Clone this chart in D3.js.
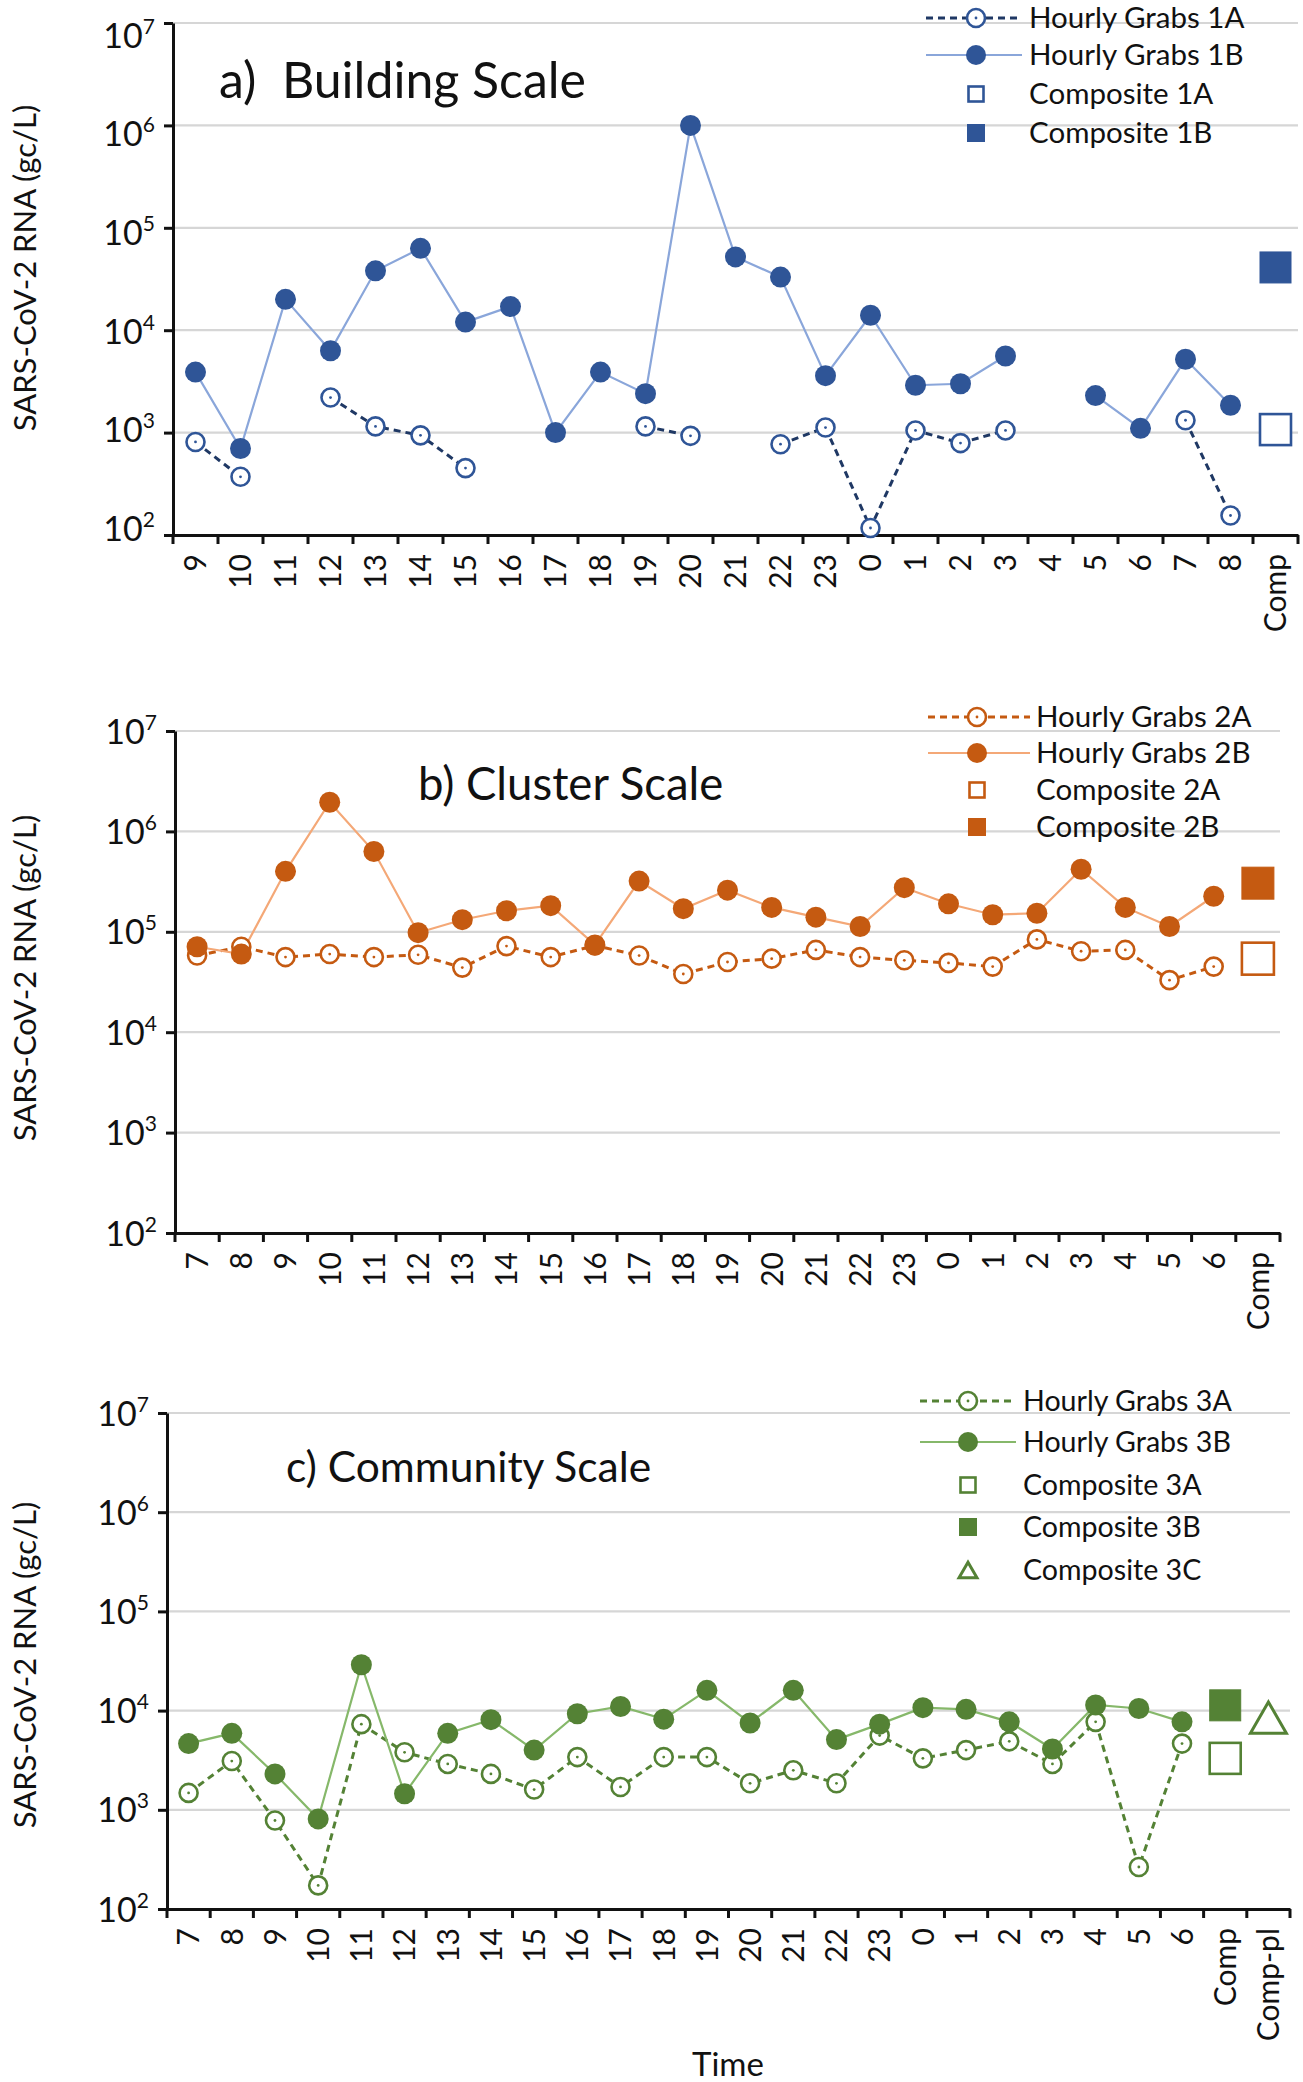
<!DOCTYPE html>
<html><head><meta charset="utf-8">
<script src="https://cdnjs.cloudflare.com/ajax/libs/d3/7.8.5/d3.min.js"></script>
<style>
body{margin:0;background:#fff}
svg{display:block}
text{font-family:Lato,"Open Sans",sans-serif;fill:#111}
</style>
</head><body>
<svg id="chart" width="1303" height="2082"></svg>
<script>
// ---------- DATA ----------
const hoursA = ["9","10","11","12","13","14","15","16","17","18","19","20","21","22","23","0","1","2","3","4","5","6","7","8"];
const catsA = hoursA.concat(["Comp"]);
const grabs1A = [810,370,null,2200,1150,940,450,null,null,null,1150,930,null,770,1120,117,1050,790,1050,null,null,null,1320,155];
const grabs1B = [3900,700,20000,6300,38000,63000,12000,17000,1000,3900,2400,1000000,52000,33000,3600,14000,2900,3000,5600,null,2300,1100,5200,1850];
const comp1A = 1070;
const comp1B = 41000;

const hoursB = ["7","8","9","10","11","12","13","14","15","16","17","18","19","20","21","22","23","0","1","2","3","4","5","6"];
const catsB = hoursB.concat(["Comp"]);
const grabs2A = [58000,71000,56000,60000,56000,59000,44000,72000,56000,73000,58000,38000,50000,54000,66000,56000,52000,49000,45000,84000,64000,66000,33000,45000];
const grabs2B = [71000,60000,400000,1950000,630000,98000,132000,162000,182000,74000,320000,170000,260000,175000,140000,113000,275000,190000,148000,153000,420000,175000,113000,226000];
const comp2A = 54000;
const comp2B = 305000;

const hoursC = hoursB;
const catsC = hoursC.concat(["Comp","Comp-pl"]);
const grabs3A = [1480,3100,780,173,7300,3800,2900,2300,1600,3400,1700,3400,3400,1850,2500,1850,5600,3300,4000,4900,2900,7700,265,4650];
const grabs3B = [4650,5900,2300,810,29000,1450,5900,8100,4000,9300,11000,8200,16000,7500,16000,5100,7300,10700,10300,7700,4100,11400,10500,7700];
const comp3A = 3300;
const comp3B = 11300;
const comp3C = 8500;

const yTickValues = [1e2,1e3,1e4,1e5,1e6,1e7];
const yTickExps = ["2","3","4","5","6","7"];

// ---------- LAYOUT ----------
const svg = d3.select("#chart");

const panels = [
  {
    cats: catsA, hours: hoursA, left: 173, right: 1298, top: 23, bottom: 535,
    labelShift: [-7,-3,1,5,8,12], ylabY: 268,
    title: "a)  Building Scale", titleX: 219, titleY: 80, titleSize: 50,
    dark: "#2F5597", light: "#8AA6DA", dash: "#1F3864",
    sA: grabs1A, sB: grabs1B,
    comps: [{cat:"Comp", v: comp1A, type:"sqOpen", size:31},{cat:"Comp", v: comp1B, type:"sqFilled", size:31}],
    legend: {x1: 926, x2: 1022, sx: 976, tx: 1029, ys: [18,55,94,133], size: 29.5,
      items: [["Hourly Grabs 1A","lineOpen"],["Hourly Grabs 1B","lineFilled"],["Composite 1A","sqOpen"],["Composite 1B","sqFilled"]]}
  },
  {
    cats: catsB, hours: hoursB, left: 175, right: 1280, top: 731, bottom: 1233,
    labelShift: [0,0,0,0,0,0], ylabY: 978,
    title: "b) Cluster Scale", titleX: 418, titleY: 784, titleSize: 45.5,
    dark: "#C55A11", light: "#F4A877", dash: "#C55A11",
    sA: grabs2A, sB: grabs2B,
    comps: [{cat:"Comp", v: comp2A, type:"sqOpen", size:32},{cat:"Comp", v: comp2B, type:"sqFilled", size:32}],
    legend: {x1: 928, x2: 1030, sx: 977, tx: 1036, ys: [717,753,790,827], size: 29.5,
      items: [["Hourly Grabs 2A","lineOpen"],["Hourly Grabs 2B","lineFilled"],["Composite 2A","sqOpen"],["Composite 2B","sqFilled"]]}
  },
  {
    cats: catsC, hours: hoursC, left: 167, right: 1290, top: 1413, bottom: 1909,
    labelShift: [0,0,0,0,0,0], ylabY: 1665,
    title: "c) Community Scale", titleX: 286, titleY: 1467, titleSize: 42.5,
    dark: "#548235", light: "#86B86A", dash: "#548235",
    sA: grabs3A, sB: grabs3B,
    comps: [{cat:"Comp", v: comp3A, type:"sqOpen", size:31},{cat:"Comp", v: comp3B, type:"sqFilled", size:31},{cat:"Comp-pl", v: comp3C, type:"tri", size:36}],
    legend: {x1: 920, x2: 1016, sx: 968, tx: 1023, ys: [1401,1442,1485,1527,1570], size: 28.6,
      items: [["Hourly Grabs 3A","lineOpen"],["Hourly Grabs 3B","lineFilled"],["Composite 3A","sqOpen"],["Composite 3B","sqFilled"],["Composite 3C","tri"]]}
  }
];

function openCircle(g, cx, cy, color, r) {
  g.append("circle").attr("cx",cx).attr("cy",cy).attr("r",r)
    .attr("fill","#fff").attr("stroke",color).attr("stroke-width",2.6);
  g.append("circle").attr("cx",cx).attr("cy",cy).attr("r",1.4).attr("fill",color);
}
function filledCircle(g, cx, cy, color, r) {
  g.append("circle").attr("cx",cx).attr("cy",cy).attr("r",r).attr("fill",color);
}
function square(g, cx, cy, color, s, filled) {
  g.append("rect").attr("x",cx-s/2).attr("y",cy-s/2).attr("width",s).attr("height",s)
    .attr("fill", filled ? color : "#fff").attr("stroke",color).attr("stroke-width", filled ? 1 : 2.6);
}
function triangle(g, cx, cy, color, s) {
  const h = s*0.87;
  g.append("path").attr("d",`M${cx},${cy-h/2} L${cx+s/2},${cy+h/2} L${cx-s/2},${cy+h/2} Z`)
    .attr("fill","#fff").attr("stroke",color).attr("stroke-width",3);
}

panels.forEach(p => {
  const g = svg.append("g");
  const x = d3.scaleBand().domain(p.cats).range([p.left, p.right]).paddingInner(0).paddingOuter(0);
  const bw = x.bandwidth();
  const cx = c => x(c) + bw/2;
  const y = d3.scaleLog().domain([1e2,1e7]).range([p.bottom, p.top]);

  // gridlines
  g.append("g").selectAll("line").data(yTickValues.slice(1)).join("line")
    .attr("x1", p.left).attr("x2", p.right)
    .attr("y1", d => y(d)).attr("y2", d => y(d))
    .attr("stroke", "#D6D6D6").attr("stroke-width", 2.2);

  // y axis
  const ya = g.append("g").attr("transform",`translate(${p.left},0)`)
    .call(d3.axisLeft(y).tickValues(yTickValues).tickSize(9).tickSizeOuter(0).tickFormat(""));
  ya.selectAll("path").attr("stroke","#111").attr("stroke-width",3);
  ya.selectAll(".tick line").attr("stroke","#111").attr("stroke-width",3);
  ya.selectAll(".tick").each(function(d,i){
    const t = d3.select(this).append("text").attr("x",-18).attr("y",12 + p.labelShift[i])
      .attr("text-anchor","end").style("font-size","34px").attr("fill","#111");
    t.append("tspan").text("10");
    t.append("tspan").attr("dy",-14).style("font-size","21px").text(yTickExps[i]);
  });

  // x axis
  const xa = g.append("g").attr("transform",`translate(0,${p.bottom})`)
    .call(d3.axisBottom(x).tickSize(0).tickSizeOuter(0));
  xa.selectAll("path").attr("stroke","#111").attr("stroke-width",3);
  xa.selectAll(".tick text")
    .attr("transform","rotate(-90)").attr("text-anchor","end")
    .attr("x",-19).attr("y",0).attr("dy","0.36em")
    .style("font-size","30px").attr("fill","#111");
  // boundary ticks
  const bounds = p.cats.map(c => x(c)).concat([x(p.cats[p.cats.length-1]) + bw]);
  g.append("g").selectAll("line").data(bounds).join("line")
    .attr("x1", d=>d).attr("x2", d=>d).attr("y1", p.bottom).attr("y2", p.bottom+9)
    .attr("stroke","#111").attr("stroke-width",3);

  // y label
  g.append("text").attr("transform",`translate(25,${p.ylabY}) rotate(-90)`)
    .attr("text-anchor","middle").attr("dy","0.35em")
    .style("font-size","31px").attr("fill","#222").text("SARS-CoV-2 RNA (gc/L)");

  // title
  g.append("text").attr("x",p.titleX).attr("y",p.titleY).attr("dy","0.35em")
    .style("font-size",p.titleSize+"px").style("white-space","pre").attr("xml:space","preserve").attr("fill","#111").text(p.title);

  // series
  const dA = p.hours.map((h,i)=>({h, v:p.sA[i]}));
  const dB = p.hours.map((h,i)=>({h, v:p.sB[i]}));
  const line = d3.line().defined(d => d.v != null).x(d => cx(d.h)).y(d => y(d.v));
  g.append("path").datum(dA).attr("d", line).attr("fill","none")
    .attr("stroke", p.dash).attr("stroke-width",3).attr("stroke-dasharray","7,5");
  g.append("path").datum(dB).attr("d", line).attr("fill","none")
    .attr("stroke", p.light).attr("stroke-width",2.2);
  const mk = g.append("g");
  dA.filter(d=>d.v!=null).forEach(d => openCircle(mk, cx(d.h), y(d.v), p.dark, 9));
  dB.filter(d=>d.v!=null).forEach(d => filledCircle(mk, cx(d.h), y(d.v), p.dark, 10.5));

  // composites
  p.comps.forEach(c => {
    if (c.type === "sqOpen") square(mk, cx(c.cat), y(c.v), p.dark, c.size, false);
    else if (c.type === "sqFilled") square(mk, cx(c.cat), y(c.v), p.dark, c.size, true);
    else triangle(mk, cx(c.cat), y(c.v), p.dark, c.size);
  });

  // legend
  const L = p.legend;
  const lg = g.append("g");
  L.items.forEach((it,i) => {
    const yy = L.ys[i];
    if (it[1] === "lineOpen") {
      lg.append("line").attr("x1",L.x1).attr("x2",L.x2).attr("y1",yy).attr("y2",yy)
        .attr("stroke",p.dash).attr("stroke-width",3).attr("stroke-dasharray","7,5");
      openCircle(lg, L.sx, yy, p.dark, 9);
    } else if (it[1] === "lineFilled") {
      lg.append("line").attr("x1",L.x1).attr("x2",L.x2).attr("y1",yy).attr("y2",yy)
        .attr("stroke",p.light).attr("stroke-width",2.2);
      filledCircle(lg, L.sx, yy, p.dark, 10);
    } else if (it[1] === "sqOpen") square(lg, L.sx, yy, p.dark, 15, false);
    else if (it[1] === "sqFilled") square(lg, L.sx, yy, p.dark, 17, true);
    else triangle(lg, L.sx, yy, p.dark, 18);
    lg.append("text").attr("x",L.tx).attr("y",yy).attr("dy","0.35em")
      .style("font-size",L.size+"px").attr("fill","#222").text(it[0]);
  });
});

// x title
svg.append("text").attr("x",728).attr("y",2064).attr("text-anchor","middle").attr("dy","0.35em")
  .style("font-size","33px").attr("fill","#222").text("Time");
</script>
</body></html>
